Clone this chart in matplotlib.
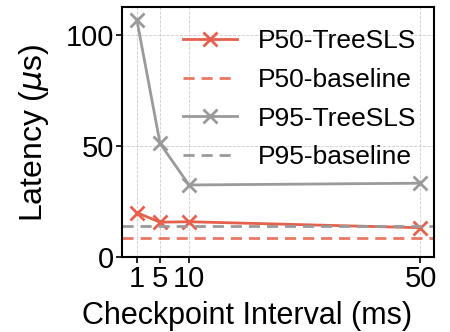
import matplotlib
matplotlib.use("Agg")
import matplotlib.pyplot as plt

plt.rcParams['font.family'] = ['Liberation Sans', 'DejaVu Sans']

intervals = [1, 5, 10, 50]
p50_treesls = [20.0, 15.7, 15.9, 13.2]
p95_treesls = [107.0, 51.3, 32.5, 33.3]
p50_baseline = 8.4
p95_baseline = 13.9

red = '#e5604d'
gray = '#9a9a9a'

fig = plt.figure(figsize=(4.5, 3.32), dpi=100)
ax = fig.add_axes([0.272, 0.226, 0.692, 0.752])

ax.plot(intervals, p50_treesls, color=red, marker='x', markersize=10, mew=2, lw=2, label='P50-TreeSLS')
ax.axhline(p50_baseline, color=red, ls='--', lw=2, alpha=0.85, label='P50-baseline', dashes=(4, 2.5))
ax.plot(intervals, p95_treesls, color=gray, marker='x', markersize=10, mew=2, lw=2, label='P95-TreeSLS')
ax.axhline(p95_baseline, color=gray, ls='--', lw=2, label='P95-baseline', dashes=(4, 2.5))

ax.set_xlim(-1.5, 52.3)
ax.set_ylim(0, 112.7)
ax.set_xticks(intervals)
ax.set_xticklabels([str(i) for i in intervals])
ax.set_yticks([0, 50, 100])
ax.tick_params(labelsize=21, length=4, width=1.2, pad=2)
ax.grid(True, ls='--', lw=0.6, color='#cccccc')
for s in ax.spines.values():
    s.set_linewidth(1.5)

ax.set_xlabel('Checkpoint Interval (ms)', fontsize=22, labelpad=2)
ax.xaxis.set_label_coords(0.40, -0.175)
ax.set_ylabel(r'Latency ($\mu$s)', fontsize=23, labelpad=2)
ax.yaxis.set_label_coords(-0.23, 0.5)

ax.legend(loc='upper left', frameon=False, fontsize=19, handlelength=2.05,
          borderaxespad=0.0, labelspacing=0.56, handletextpad=0.8,
          bbox_to_anchor=(0.16, 0.955))

fig.savefig('out.png', dpi=100)
